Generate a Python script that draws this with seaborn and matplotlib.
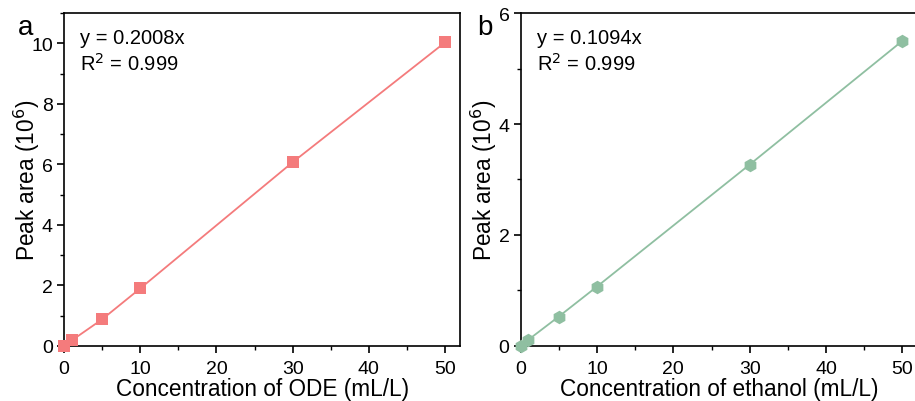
import matplotlib
matplotlib.use("Agg")
import matplotlib.pyplot as plt
import seaborn as sns
import pandas as pd
from matplotlib.ticker import MultipleLocator

conc = [0, 1, 5, 10, 30, 50]
area_ode = [0.0, 0.18, 0.88, 1.90, 6.07, 10.03]
area_eth = [0.0, 0.11, 0.53, 1.07, 3.27, 5.50]

red = "#F47B7C"
green = "#8FBFA1"

sns.set_theme(style="ticks")
plt.rcParams['font.family'] = ['Liberation Sans', 'DejaVu Sans']
plt.rcParams['axes.linewidth'] = 1.2
plt.rcParams['text.color'] = 'black'
plt.rcParams['axes.labelcolor'] = 'black'
plt.rcParams['xtick.color'] = 'black'
plt.rcParams['ytick.color'] = 'black'

fig = plt.figure(figsize=(9.15, 4.02), dpi=100)
ax1 = fig.add_axes([0.070, 0.137, 0.433, 0.828])
ax2 = fig.add_axes([0.569, 0.137, 0.434, 0.828])

df1 = pd.DataFrame({"x": conc, "y": area_ode})
df2 = pd.DataFrame({"x": conc, "y": area_eth})

sns.lineplot(data=df1, x="x", y="y", ax=ax1, color=red, lw=1.3, sort=False)
sns.scatterplot(data=df1, x="x", y="y", ax=ax1, color=red, marker="s", s=70,
                edgecolor=red, linewidth=0, zorder=3, clip_on=False)
sns.lineplot(data=df2, x="x", y="y", ax=ax2, color=green, lw=1.3, sort=False)
sns.scatterplot(data=df2, x="x", y="y", ax=ax2, color=green, marker="h", s=95,
                edgecolor=green, linewidth=0, zorder=3, clip_on=False)

ax1.set_xlim(0, 52)
ax1.set_ylim(0, 11)
ax1.xaxis.set_major_locator(MultipleLocator(10))
ax1.xaxis.set_minor_locator(MultipleLocator(5))
ax1.yaxis.set_major_locator(MultipleLocator(2))
ax1.yaxis.set_minor_locator(MultipleLocator(1))

ax2.set_xlim(0, 52)
ax2.set_ylim(0, 6)
ax2.xaxis.set_major_locator(MultipleLocator(10))
ax2.xaxis.set_minor_locator(MultipleLocator(5))
ax2.yaxis.set_major_locator(MultipleLocator(2))
ax2.yaxis.set_minor_locator(MultipleLocator(1))

for ax in (ax1, ax2):
    ax.tick_params(which="major", direction="out", length=5, width=1.2,
                   labelsize=14, colors="black", pad=3)
    ax.tick_params(axis="x", which="major", pad=5)
    ax.tick_params(which="minor", direction="out", length=3, width=1.0, colors="black")
    for s in ax.spines.values():
        s.set_visible(True)
        s.set_color("black")
    ax.set_ylabel("Peak area (10$^{6}$)", fontsize=16.3)
    ax.yaxis.set_label_coords(-0.055, 0.5)

ax1.set_xlabel("Concentration of ODE (mL/L)", fontsize=16.3, labelpad=0)
ax2.set_xlabel("Concentration of ethanol (mL/L)", fontsize=16.3, labelpad=0)

ax1.text(0.04, 0.955, "y = 0.2008x", transform=ax1.transAxes, fontsize=14.5, va="top")
ax1.text(0.04, 0.882, "R$^{2}$ = 0.999", transform=ax1.transAxes, fontsize=14.5, va="top")
ax2.text(0.04, 0.955, "y = 0.1094x", transform=ax2.transAxes, fontsize=14.5, va="top")
ax2.text(0.04, 0.882, "R$^{2}$ = 0.999", transform=ax2.transAxes, fontsize=14.5, va="top")

fig.text(0.019, 0.93, "a", fontsize=20, va="center")
fig.text(0.522, 0.93, "b", fontsize=20, va="center")

fig.savefig("out.png", dpi=100)
